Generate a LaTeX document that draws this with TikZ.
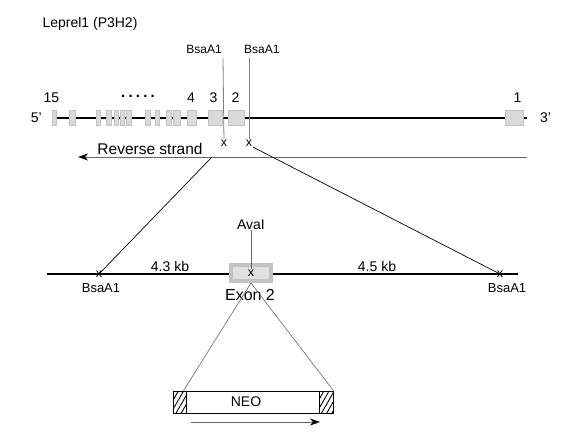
\documentclass[tikz,border=0pt]{standalone}
\usepackage{fontspec}
\setmainfont{Liberation Sans}
\usetikzlibrary{arrows.meta,positioning,patterns.meta,calc}
\definecolor{exongray}{gray}{0.85}
\definecolor{exonedge}{gray}{0.76}
\definecolor{exoninner}{gray}{0.88}
\definecolor{cutgray}{gray}{0.5}
\definecolor{linegray}{gray}{0.4}

\begin{document}
\begin{tikzpicture}[x=1pt, y=-1pt,
  txt/.style={inner sep=0pt, font=\fontsize{14}{16}\selectfont},
  small/.style={inner sep=0pt, font=\fontsize{12}{14}\selectfont},
  site/.style={inner sep=0.5pt, font=\fontsize{12.5}{12}\selectfont},
  exon/.style={rectangle, draw=exonedge, fill=exongray, line width=0.8pt, minimum height=15pt, inner sep=0pt},
  bigexon/.style={rectangle, draw=exonedge, fill=exoninner, line width=4pt, minimum width=40pt, minimum height=16pt, inner sep=0pt},
  gene/.style={line width=1.6pt, draw=black},
  cut/.style={draw=cutgray, line width=0.8pt},
  zoomline/.style={draw=black, line width=0.7pt},
  thinline/.style={draw=linegray, line width=0.6pt},
  arrow/.style={-{Stealth[length=10pt,width=7pt,inset=3pt,black]}, line width=0.9pt, draw=linegray},
  hatch/.style={rectangle, draw=black, line width=0.8pt, pattern={Lines[angle=60,distance=4.5pt,line width=0.9pt]}, minimum width=13pt, minimum height=22pt, inner sep=0pt}
]
\useasboundingbox (0,0) rectangle (569,439);

\node[txt] (title) at (90,24) {Leprel1 (P3H2)};

\coordinate (g5) at (52,118);
\coordinate (g3) at (527,118);
\draw[gene] (g5) -- (g3);
\foreach \n/\x/\w in {15/52/4, 14/69/6, 13/96/4, 12/106/5, 11/114/4, 10/120/4, 9/126/5, 8/145/5, 7/155/4, 6/166/5, 5/173/7, 4/187/9, 3/208/14, 2/228/16, 1/505/18}
  \node[exon, anchor=west, minimum width=\w pt] (ex\n) at (\x,118) {};
\node[txt, left=10pt of ex15] (five) {5'};
\node[txt, right=16pt of ex1] (three) {3'};
\node[txt, above=7pt of ex15, xshift=-3pt] (n15) {15};
\node[txt, above=7pt of ex4, xshift=-1pt] (n4) {4};
\node[txt, above=7pt of ex3, xshift=-2pt] (n3) {3};
\node[txt, above=7pt of ex2, xshift=-1pt] (n2) {2};
\node[txt, above=7pt of ex1, xshift=3pt] (n1) {1};
\node[txt, font=\fontsize{15}{16}\bfseries] (dots) at (138,96) {.\kern3.2pt.\kern3.2pt.\kern3.2pt.\kern3.2pt.};

\coordinate (ca) at (223,58);
\coordinate (cb) at (249,58);
\node[small, anchor=south east] (bsaa) at (222,54) {BsaA1};
\node[small, anchor=south west] (bsab) at (244,54) {BsaA1};
\node[site] (xa) at (224,143) {x};
\node[site] (xb) at (249,143) {x};
\draw[cut] (ca) -- (xa);
\draw[cut] (cb) -- (xb);

\coordinate (rsR) at (527,157);
\coordinate (rsL) at (78,157);
\draw[arrow] (rsR) -- (rsL);
\node[txt, font=\fontsize{15.5}{17}\selectfont] (rev) at (150,149) {Reverse strand};

\coordinate (l5) at (47,274);
\coordinate (l3) at (518,274);
\draw[line width=2.4pt] (l5) -- (l3);
\node[site] (xl) at (99,274) {x};
\node[site] (xr) at (500,274) {x};
\coordinate (zl) at (212,157);
\draw[zoomline] (zl) -- (xl.center);
\draw[zoomline] (xb.south east) -- (xr.center);
\node[small, font=\fontsize{13}{14}\selectfont] (bsal) at (101,288) {BsaA1};
\node[small, font=\fontsize{13}{14}\selectfont] (bsar) at (507,288) {BsaA1};
\node[txt] (kbl) at (170,266) {4.3 kb};
\node[txt] (kbr) at (377,266) {4.5 kb};

\node[bigexon] (exII) at (251,273) {};
\node[txt] (ava) at (251,225) {AvaI};
\node[site] (xm) at (251,273) {x};
\draw[thinline] (ava) -- (xm);
\node[txt, font=\fontsize{16}{18}\selectfont] (exlbl) at (250,295) {Exon 2};

\node[rectangle, draw=black, line width=0.8pt, minimum width=160pt, minimum height=22pt, inner sep=0pt] (neo) at (253,402) {};
\node[hatch, anchor=west] (hl) at (neo.west) {};
\node[hatch, anchor=east, minimum width=14pt] (hr) at (neo.east) {};
\node[txt] (neotxt) at (246,402) {NEO};
\draw[thinline] (exII.south) -- ($(hl.north east)+(-3,0)$);
\draw[thinline] (exII.south) -- (hr.north east);

\coordinate (na) at (191,422);
\coordinate (nb) at (320,422);
\draw[arrow] (na) -- (nb);
\end{tikzpicture}
\end{document}
